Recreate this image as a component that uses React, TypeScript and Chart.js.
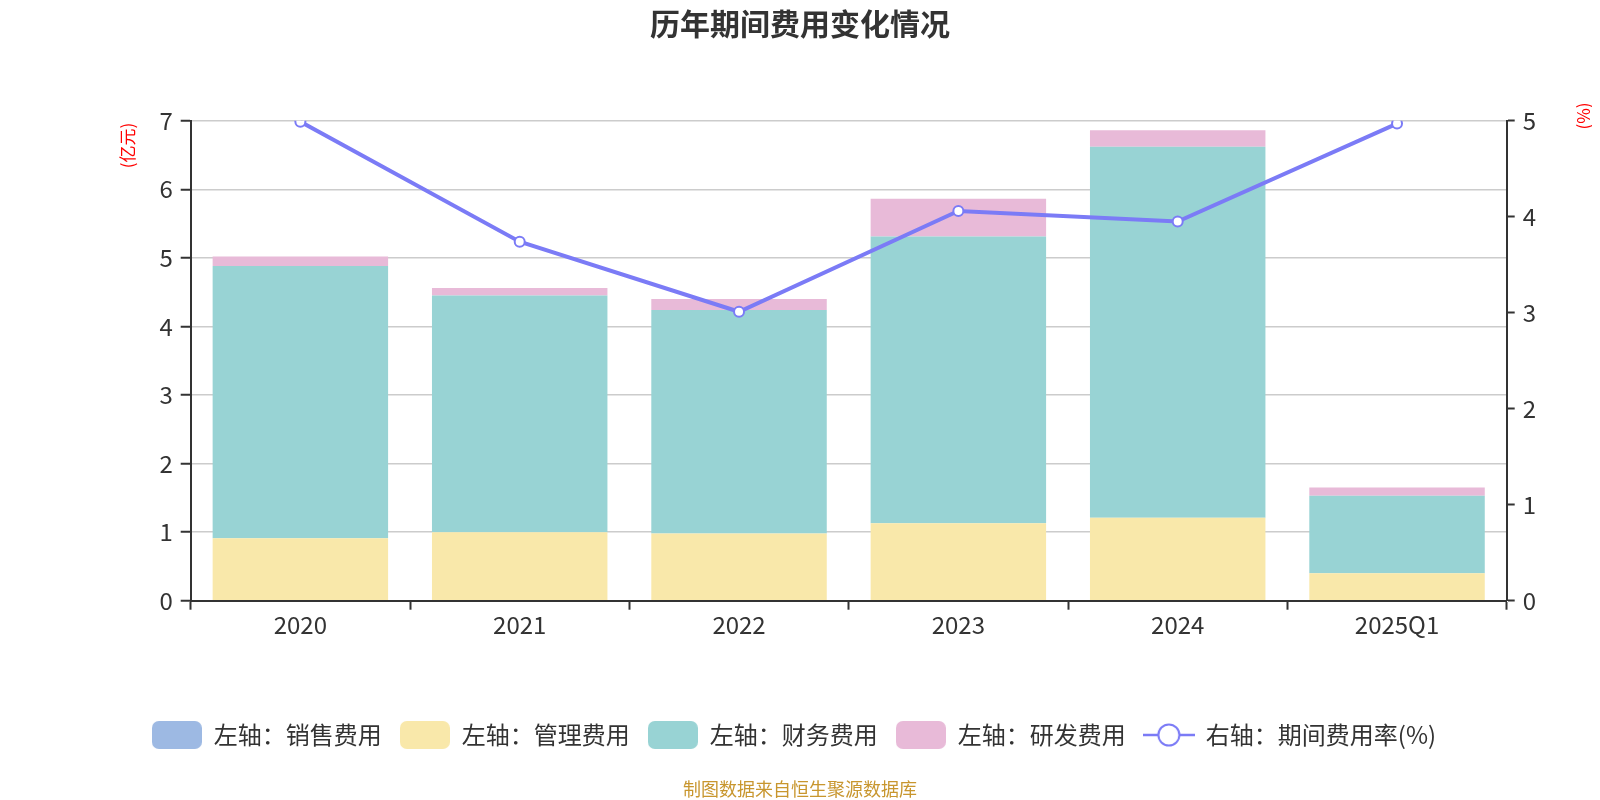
import React, { useEffect, useRef } from "react";
import { Chart, registerables } from "chart.js";

Chart.register(...registerables);

const categories = ["2020", "2021", "2022", "2023", "2024", "2025Q1"];
const salesExpense = [0, 0, 0, 0, 0, 0];
const adminExpense = [0.91, 1.0, 0.98, 1.13, 1.21, 0.4];
const financeExpense = [3.97, 3.45, 3.26, 4.18, 5.41, 1.13];
const rdExpense = [0.14, 0.11, 0.16, 0.55, 0.24, 0.12];
const expenseRate = [4.99, 3.74, 3.01, 4.06, 3.95, 4.97];

const seriesNames = ["左轴：销售费用", "左轴：管理费用", "左轴：财务费用", "左轴：研发费用", "右轴：期间费用率(%)"];
const leftTicks = [0, 1, 2, 3, 4, 5, 6, 7];
const rightTicks = [0, 1, 2, 3, 4, 5];

const titleText = "历年期间费用变化情况";
const footerText = "制图数据来自恒生聚源数据库";
const leftAxisName = "(亿元)";
const rightAxisName = "(%)";

const COLORS = {
  sales: "#9DB9E3",
  admin: "#F9E8AA",
  finance: "#98D3D4",
  rd: "#E8BAD8",
  line: "#7B7BF6",
};

const FONT = "'Noto Sans CJK SC', 'Noto Sans', sans-serif";

function makeBoxImage(color: string) {
  const c = document.createElement("canvas");
  c.width = 50;
  c.height = 28;
  const ctx = c.getContext("2d")!;
  ctx.fillStyle = color;
  ctx.beginPath();
  (ctx as any).roundRect(0, 0, 50, 28, 7);
  ctx.fill();
  return c;
}

function makeLineImage(color: string) {
  const c = document.createElement("canvas");
  c.width = 52;
  c.height = 26;
  const ctx = c.getContext("2d")!;
  ctx.strokeStyle = color;
  ctx.lineWidth = 2.5;
  ctx.beginPath();
  ctx.moveTo(0, 13);
  ctx.lineTo(52, 13);
  ctx.stroke();
  ctx.beginPath();
  ctx.arc(26, 13, 10.5, 0, Math.PI * 2);
  ctx.fillStyle = "#fff";
  ctx.fill();
  ctx.lineWidth = 2;
  ctx.stroke();
  return c;
}

const textPlugin = {
  id: "extraText",
  afterDraw(chart: any) {
    const ctx = chart.ctx;
    ctx.save();
    ctx.textAlign = "center";
    ctx.textBaseline = "middle";
    ctx.fillStyle = "#333";
    ctx.font = `bold 30px ${FONT}`;
    ctx.fillText(titleText, 792, 15.5);

    ctx.fillStyle = "#C8962E";
    ctx.font = `18px ${FONT}`;
    ctx.fillText(footerText, 792, 781);

    ctx.fillStyle = "#FF0000";
    ctx.font = `17px ${FONT}`;
    ctx.save();
    ctx.translate(120, 137.5);
    ctx.rotate(-Math.PI / 2);
    ctx.fillText(leftAxisName, 0, 0);
    ctx.restore();
    ctx.save();
    ctx.translate(1576, 108);
    ctx.rotate(-Math.PI / 2);
    ctx.fillText(rightAxisName, 0, 0);
    ctx.restore();
    ctx.restore();
  },
};

export default function App() {
  const ref = useRef<HTMLCanvasElement>(null);

  useEffect(() => {
    if (!ref.current) return;
    const images = [
      makeBoxImage(COLORS.sales),
      makeBoxImage(COLORS.admin),
      makeBoxImage(COLORS.finance),
      makeBoxImage(COLORS.rd),
      makeLineImage(COLORS.line),
    ];
    const barCommon = {
      type: "bar" as const,
      stack: "s",
      yAxisID: "y",
      order: 1,
      barPercentage: 0.8,
      categoryPercentage: 1.0,
      borderWidth: 0,
    };
    const chart = new Chart(ref.current, {
      data: {
        labels: categories,
        datasets: [
          { ...barCommon, label: seriesNames[0], data: salesExpense, backgroundColor: COLORS.sales },
          { ...barCommon, label: seriesNames[1], data: adminExpense, backgroundColor: COLORS.admin },
          { ...barCommon, label: seriesNames[2], data: financeExpense, backgroundColor: COLORS.finance },
          { ...barCommon, label: seriesNames[3], data: rdExpense, backgroundColor: COLORS.rd },
          {
            type: "line" as const,
            label: seriesNames[4],
            data: expenseRate,
            yAxisID: "y1",
            order: 0,
            borderColor: COLORS.line,
            borderWidth: 4,
            pointRadius: 5,
            pointBorderWidth: 2,
            pointBackgroundColor: "#fff",
            pointBorderColor: COLORS.line,
            tension: 0,
          },
        ],
      } as any,
      options: {
        responsive: false,
        animation: false,
        font: { family: FONT },
        layout: { padding: { left: 0, right: 12, top: 112.7, bottom: 43 } },
        plugins: {
          title: { display: false },
          tooltip: { enabled: false },
          legend: {
            display: true,
            position: "bottom",
            labels: {
              usePointStyle: true,
              pointStyleWidth: 50,
              padding: 18,
              color: "#333",
              font: { size: 24, family: FONT },
              generateLabels: () =>
                seriesNames.map((name, i) => ({
                  text: name,
                  pointStyle: images[i],
                  fillStyle: "transparent",
                  strokeStyle: "transparent",
                  lineWidth: 0,
                  hidden: false,
                  datasetIndex: i,
                  fontColor: "#333",
                })),
            },
          },
        },
        scales: {
          x: {
            type: "category",
            offset: true,
            afterFit: (s: any) => {
              s.height = 104.3;
            },
            border: { display: true, color: "#333", width: 2 },
            grid: {
              offset: true,
              drawOnChartArea: false,
              drawTicks: true,
              tickLength: 9,
              tickColor: "#333",
              tickWidth: 2,
            },
            ticks: { color: "#333", font: { size: 24, family: FONT }, padding: 1, maxRotation: 0 },
          },
          y: {
            type: "linear",
            position: "left",
            stacked: true,
            min: 0,
            max: 7,
            afterFit: (s: any) => {
              s.width = 182.7;
            },
            afterBuildTicks: (s: any) => {
              s.ticks = leftTicks.map((v) => ({ value: v }));
            },
            border: { display: true, color: "#333", width: 2 },
            grid: {
              color: "#CCCCCC",
              lineWidth: 1.5,
              drawTicks: true,
              tickLength: 10,
              tickColor: "#333",
              tickWidth: 2,
            },
            ticks: { color: "#333", font: { size: 24, family: FONT }, padding: 8 },
          },
          y1: {
            type: "linear",
            position: "right",
            min: 0,
            max: 5,
            afterFit: (s: any) => {
              s.width = 73.3;
            },
            afterBuildTicks: (s: any) => {
              s.ticks = rightTicks.map((v) => ({ value: v }));
            },
            border: { display: true, color: "#333", width: 2 },
            grid: {
              drawOnChartArea: false,
              drawTicks: true,
              tickLength: 8,
              tickColor: "#333",
              tickWidth: 2,
            },
            ticks: { color: "#333", font: { size: 24, family: FONT }, padding: 8 },
          },
        },
      } as any,
      plugins: [textPlugin],
    });
    return () => chart.destroy();
  }, []);

  return (
    <div style={{ width: 1584, height: 792 }}>
      <canvas ref={ref} width={1584} height={792} style={{ display: "block" }} />
    </div>
  );
}
